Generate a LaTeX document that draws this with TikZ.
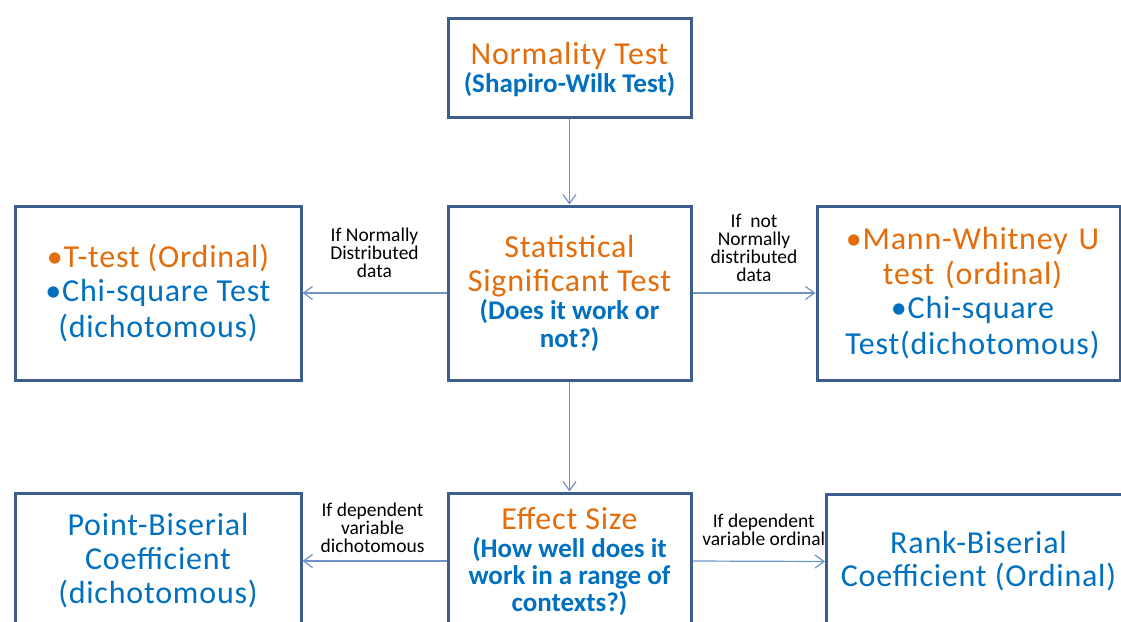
\documentclass[tikz,border=0pt]{standalone}
\usepackage{fontspec}
\setmainfont{Carlito}
\newfontfamily\widefam[LetterSpace=2.5]{Carlito}
\usetikzlibrary{arrows.meta}
\definecolor{boxline}{HTML}{3B5E8C}
\definecolor{arrowline}{HTML}{6F93C8}
\definecolor{headorange}{HTML}{E46C0A}
\definecolor{textblue}{HTML}{0070C0}
\newcommand{\bigtxt}{\widefam\fontsize{32}{28}\selectfont}
\newcommand{\boldtxt}{\rmfamily\fontsize{27}{28}\selectfont\bfseries}
\tikzset{
  box/.style={draw=boxline, line width=3pt, fill=white, rectangle, align=center,
    inner sep=0pt, anchor=north west, font=\bigtxt},
  conn/.style={draw=arrowline, line width=1.2pt, -{Straight Barb[length=9pt,width=13pt]}},
  lbl/.style={font=\rmfamily\fontsize{19.5}{18}\selectfont, align=center, text=black, inner sep=0pt},
}
\begin{document}
\begin{tikzpicture}[x=1pt,y=-1pt]
\useasboundingbox (0,0) rectangle (1121,621);
% boxes
\node[box, minimum width=243pt, minimum height=99pt] (norm) at (446.5,16.5)
  {\rule{0pt}{27pt}\textcolor{headorange}{Normality Test}\\[0pt]
   {\boldtxt\textcolor{textblue}{(Shapiro-Wilk Test)}}};
\node[box, minimum width=243pt, minimum height=174pt] (sig) at (446.5,204.5)
  {\textcolor{headorange}{Statistical}\\[6pt]
   \textcolor{headorange}{Significant Test}\\[0pt]
   {\boldtxt\textcolor{textblue}{(Does it work or}}\\
   {\boldtxt\textcolor{textblue}{not?)}}};
\node[box, minimum width=286pt, minimum height=174pt] (param) at (13.5,204.5)
  {\textcolor{headorange}{•T-test (Ordinal)}\\[6pt]
   \textcolor{textblue}{•Chi-square Test}\\[6pt]
   \textcolor{textblue}{(dichotomous)}};
\node[box, minimum width=303pt, minimum height=174pt, text width=290pt] (nonparam) at (815.5,204.5)
  {\hspace*{8pt}\textcolor{headorange}{•Mann-Whitney U}\\[6pt]
   \hspace*{8pt}\textcolor{headorange}{test (ordinal)}\\[6pt]
   \hspace*{8pt}\textcolor{textblue}{•Chi-square}\\[6pt]
   \hspace*{8pt}\textcolor{textblue}{Test(dichotomous)}};
\node[box, minimum width=286pt, minimum height=136pt] (pbis) at (13.5,491.5)
  {\textcolor{textblue}{Point-Biserial}\\[6pt]
   \textcolor{textblue}{Coefficient}\\[6pt]
   \textcolor{textblue}{(dichotomous)}};
\node[box, minimum width=243pt, minimum height=136pt] (effect) at (446.5,491.5)
  {\textcolor{headorange}{Effect Size}\\[0pt]
   {\boldtxt\textcolor{textblue}{(How well does it}}\\[-1pt]
   {\boldtxt\textcolor{textblue}{work in a range of}}\\[-1pt]
   {\boldtxt\textcolor{textblue}{contexts?)}}};
\node[box, minimum width=304pt, minimum height=134pt] (rbis) at (825,493)
  {\textcolor{textblue}{Rank-Biserial}\\[5pt]
   \textcolor{textblue}{Coefficient (Ordinal)}};
% connectors
\draw[conn] (norm.south) -- (sig.north);
\draw[conn] (sig.south) -- (effect.north);
\draw[conn] (sig.west) -- node[lbl, above=15pt] (lnorm) {If Normally\\Distributed\\data} (param.east);
\draw[conn] (sig.east) -- node[lbl, above=11pt] (lnotnorm) {If\ \ not\\Normally\\distributed\\data} (nonparam.west);
\draw[conn] (effect.west) -- node[lbl, above=8pt, xshift=-2pt] (ldich) {If dependent\\variable\\dichotomous} (pbis.east);
\draw[conn] (effect.east) -- node[lbl, above=15pt, xshift=5pt] (lord) {If dependent\\variable ordinal} (rbis.west);
\end{tikzpicture}
\end{document}
